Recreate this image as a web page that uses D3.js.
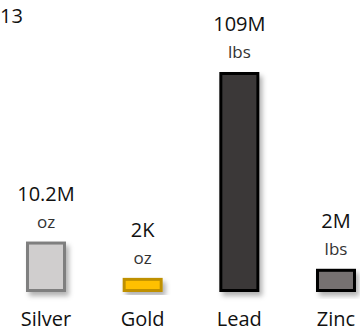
<!DOCTYPE html>
<html>
<head>
<meta charset="utf-8">
<script src="https://cdn.jsdelivr.net/npm/d3@7"></script>
<style>
  body { margin: 0; background: #fff; }
  svg { display: block; font-family: "Open Sans", sans-serif; }
</style>
</head>
<body>
<svg id="metal-chart" width="360" height="333"></svg>
<script>
// metals produced
var metals = ["Silver", "Gold", "Lead", "Zinc"];
var valueLabels = ["10.2M", "2K", "109M", "2M"];
var units = ["oz", "oz", "lbs", "lbs"];
// bar sizes as drawn in the graphic (not to a common unit)
var barValues = [25, 7, 109, 11.5];
var fills = ["#d0cece", "#ffc000", "#3b3838", "#767171"];
var strokes = ["#7f7f7f", "#bf9000", "#000000", "#000000"];
var yearLabel = "13";

var svg = d3.select("#metal-chart");

// global constants
var barWidth = 40;
var strokeW = 3;
var baseline = 292;

var x = d3.scalePoint().domain(metals).range([46, 336]);
var y = d3.scaleLinear().domain([0, 109]).range([baseline, 72]);

// soft shadow to the lower right
var defs = svg.append("defs");
defs.append("filter")
    .attr("id", "shadow")
    .attr("x", "-30%").attr("y", "-30%")
    .attr("width", "170%").attr("height", "170%")
  .append("feDropShadow")
    .attr("dx", 3).attr("dy", 4)
    .attr("stdDeviation", 2.5)
    .attr("flood-color", "#000")
    .attr("flood-opacity", 0.3);

svg.append("text")
    .attr("x", 0)
    .attr("y", 23)
    .style("font-size", "20px")
    .attr("fill", "#111")
    .text(yearLabel);

var item = svg.selectAll("g.metal")
    .data(metals)
    .enter().append("g")
    .attr("class", "metal")
    .attr("transform", function(d) { return "translate(" + x(d) + ",0)"; });

item.append("rect")
    .attr("x", -barWidth / 2 + strokeW / 2)
    .attr("y", function(d, i) { return y(barValues[i]) + strokeW / 2; })
    .attr("width", barWidth - strokeW)
    .attr("height", function(d, i) { return y(0) - y(barValues[i]) - strokeW; })
    .attr("fill", function(d, i) { return fills[i]; })
    .attr("stroke", function(d, i) { return strokes[i]; })
    .attr("stroke-width", strokeW)
    .attr("filter", "url(#shadow)");

item.append("text")
    .attr("text-anchor", "middle")
    .attr("y", function(d, i) { return y(barValues[i]) - 41; })
    .style("font-size", "20px")
    .attr("fill", "#111")
    .text(function(d, i) { return valueLabels[i]; });

item.append("text")
    .attr("text-anchor", "middle")
    .attr("y", function(d, i) { return y(barValues[i]) - 14; })
    .style("font-size", "17px")
    .attr("fill", "#333")
    .text(function(d, i) { return units[i]; });

item.append("text")
    .attr("text-anchor", "middle")
    .attr("y", 326)
    .style("font-size", "20px")
    .attr("fill", "#111")
    .text(function(d) { return d; });
</script>
</body>
</html>
